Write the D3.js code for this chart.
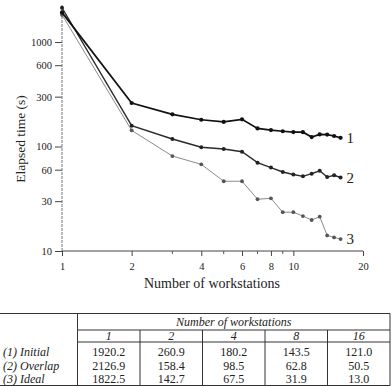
<!DOCTYPE html>
<html>
<head>
<meta charset="utf-8">
<script src="https://cdn.jsdelivr.net/npm/d3@7"></script>
<style>
  body { margin: 0; background: #fff; }
  svg text { font-family: "Liberation Serif", "DejaVu Serif", serif; fill: #222; }
</style>
</head>
<body>
<svg id="chart" width="392" height="386"></svg>
<script>
  // workstations 1..16
  const workers = d3.range(1, 17)

  const initial = [1920.2, 260.9, 203, 180.2, 172, 182, 149, 143.5, 140, 137.5, 137, 123, 130.5, 130, 126, 121.0]
  const overlap = [2126.9, 158.4, 118, 98.5, 94.5, 89, 70, 62.8, 57, 54, 51.8, 55, 58.5, 51, 53, 50.5]
  const ideal   = [1822.5, 142.7, 81, 67.5, 46.5, 46.5, 31.3, 31.9, 23.5, 23.5, 21.6, 19.8, 21.3, 14.1, 13.5, 13.0]

  const xTickMajor = [1, 2, 4, 6, 8, 10, 20]
  const xTickMinor = [3, 5, 7, 9]
  const yTickValues = [10, 30, 60, 100, 300, 600, 1000]

  const tableCols = ["1", "2", "4", "8", "16"]
  const tableRows = ["(1) Initial", "(2) Overlap", "(3) Ideal"]
  const tableVals = [
    ["1920.2", "260.9", "180.2", "143.5", "121.0"],
    ["2126.9", "158.4", "98.5", "62.8", "50.5"],
    ["1822.5", "142.7", "67.5", "31.9", "13.0"]
  ]

  const series = [
    { name: "1", values: initial, stroke: "#111", width: 1.7, r: 2.1, fill: "#111" },
    { name: "2", values: overlap, stroke: "#2a2a2a", width: 1.4, r: 2, fill: "#222" },
    { name: "3", values: ideal, stroke: "#8a8a8a", width: 1, r: 1.9, fill: "#555" }
  ]

  const svg = d3.select("#chart")

  let x = d3.scaleLog().domain([1, 20]).range([62, 363])
  let y = d3.scaleLog().domain([10, 1000]).range([251, 42])

  // y axis
  const yAxis = d3.axisLeft(y).tickValues(yTickValues).tickFormat(d3.format("d")).tickSize(7).tickPadding(3)
  const gy = svg.append("g").attr("transform", "translate(62,0)").call(yAxis)
  gy.select(".domain").remove()
  gy.selectAll("text").style("font-size", "10.5px")
  gy.selectAll("line").attr("stroke", "#444")
  svg.append("line")
     .attr("x1", 62).attr("x2", 62).attr("y1", 251).attr("y2", 5)
     .attr("stroke", "#777").attr("stroke-width", 1).attr("stroke-dasharray", "3,1")

  // x axis
  const xAxis = d3.axisBottom(x).tickValues(xTickMajor).tickFormat(d3.format("d")).tickSize(5).tickPadding(7)
  const gx = svg.append("g").attr("transform", "translate(0,251)").call(xAxis)
  gx.select(".domain").attr("d", `M${x(1)},0H${x(20)}`).attr("stroke", "#444")
  gx.selectAll("text").style("font-size", "10.5px")
  gx.selectAll("line").attr("stroke", "#444")
  svg.append("g").selectAll("line").data(xTickMinor).join("line")
     .attr("x1", d => x(d)).attr("x2", d => x(d))
     .attr("y1", 251).attr("y2", 254)
     .attr("stroke", "#555")

  svg.append("text").attr("x", 212).attr("y", 288).attr("text-anchor", "middle")
     .style("font-size", "14px").text("Number of workstations")
  svg.append("text").attr("transform", "translate(25,139) rotate(-90)").attr("text-anchor", "middle")
     .style("font-size", "13.5px").text("Elapsed time (s)")

  // lines
  const line = d3.line().x((d, i) => x(workers[i])).y(d => y(d))
  series.slice().reverse().forEach(s => {
    svg.append("path").datum(s.values).attr("d", line)
       .attr("fill", "none").attr("stroke", s.stroke).attr("stroke-width", s.width)
    svg.append("g").selectAll("circle").data(s.values).join("circle")
       .attr("cx", (d, i) => x(workers[i])).attr("cy", d => y(d)).attr("r", s.r)
       .attr("fill", s.fill)
    const last = s.values[s.values.length - 1]
    svg.append("text").attr("x", x(16) + 6).attr("y", y(last) + 5)
       .style("font-size", "15px").text(s.name)
  })

  // table
  const tLeft = 0, tRight = 390, tSplit = 77.5
  const colW = (tRight - tSplit) / tableCols.length
  const yTop = 313.5, yHead = 330, yCols = 342, yBot = 385.5
  const tbl = svg.append("g").attr("stroke", "#333").attr("stroke-width", 1)
  tbl.append("line").attr("x1", tLeft).attr("x2", tRight).attr("y1", yTop).attr("y2", yTop)
  tbl.append("line").attr("x1", tLeft).attr("x2", tRight).attr("y1", yBot).attr("y2", yBot)
  tbl.append("line").attr("x1", tSplit).attr("x2", tRight).attr("y1", yHead).attr("y2", yHead)
  tbl.append("line").attr("x1", tSplit).attr("x2", tRight).attr("y1", yCols).attr("y2", yCols)
  tbl.append("line").attr("x1", tSplit).attr("x2", tSplit).attr("y1", yTop).attr("y2", yBot)
  tbl.append("line").attr("x1", tRight).attr("x2", tRight).attr("y1", yTop).attr("y2", yBot)
  tbl.selectAll(".cdiv").data(d3.range(1, tableCols.length)).join("line")
     .attr("x1", i => tSplit + i * colW).attr("x2", i => tSplit + i * colW)
     .attr("y1", yHead).attr("y2", yBot)

  svg.append("text").attr("x", (tSplit + tRight) / 2).attr("y", 326)
     .attr("text-anchor", "middle").style("font-size", "12px").style("font-style", "italic")
     .text("Number of workstations")
  svg.append("g").selectAll("text").data(tableCols).join("text")
     .attr("x", (d, i) => tSplit + (i + 0.5) * colW).attr("y", 340)
     .attr("text-anchor", "middle").style("font-size", "12px").style("font-style", "italic")
     .text(d => d)
  const rowY = [355.5, 369.5, 383]
  svg.append("g").selectAll("text").data(tableRows).join("text")
     .attr("x", 3).attr("y", (d, i) => rowY[i])
     .style("font-size", "12px").style("font-style", "italic").text(d => d)
  tableVals.forEach((row, r) => {
    svg.append("g").selectAll("text").data(row).join("text")
       .attr("x", (d, i) => tSplit + (i + 0.5) * colW).attr("y", rowY[r])
       .attr("text-anchor", "middle").style("font-size", "12px").text(d => d)
  })
</script>
</body>
</html>
